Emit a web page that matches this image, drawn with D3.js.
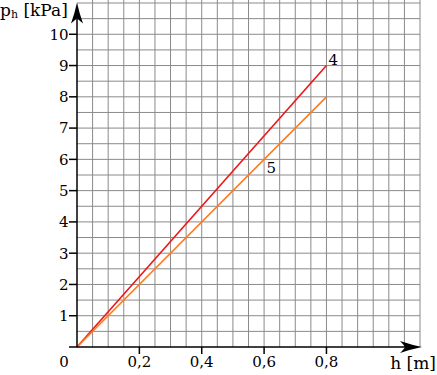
<!DOCTYPE html>
<html>
<head>
<meta charset="utf-8">
<script src="https://cdn.jsdelivr.net/npm/d3@7"></script>
<style>
  body { margin: 0; background: #fff; }
  svg { display: block; }
  text { font-family: "DejaVu Serif", serif; fill: #000; }
</style>
</head>
<body>
<div id="chart"></div>
<script>
// line data: h [m] -> p_h [kPa]
const hValues = [0, 0.8];
const line4 = [0, 9];
const line5 = [0, 8];
const lineNames = ["4", "5"];
const lineColors = ["#f01515", "#ff7a1e"];

const xTicks = [0.2, 0.4, 0.6, 0.8];
const yTicks = [1, 2, 3, 4, 5, 6, 7, 8, 9, 10];

const width = 437, height = 375;

const svg = d3.select("#chart").append("svg")
    .attr("width", width)
    .attr("height", height);

const x = d3.scaleLinear().domain([0, 1.1]).range([77, 420]);
const y = d3.scaleLinear().domain([0, 11]).range([347, 3]);

// grid every 0.05 m and 0.5 kPa
const gridX = d3.range(1, 23).map(i => i * 0.05);
const gridY = d3.range(1, 23).map(i => i * 0.5);

const grid = svg.append("g").attr("stroke", "#8a8a8a").attr("stroke-width", 1);
grid.selectAll(".gx")
    .data(gridX)
    .join("line")
    .attr("x1", d => x(d)).attr("x2", d => x(d))
    .attr("y1", y(0)).attr("y2", y(11) - 3);
grid.selectAll(".gy")
    .data(gridY)
    .join("line")
    .attr("x1", x(0)).attr("x2", x(1.1))
    .attr("y1", d => y(d)).attr("y2", d => y(d));

// data lines
const series = [line4, line5];
const line = d3.line()
    .x((d, i) => x(hValues[i]))
    .y(d => y(d));

svg.selectAll(".series")
    .data(series)
    .join("path")
    .attr("fill", "none")
    .attr("stroke", (d, i) => lineColors[i])
    .attr("stroke-width", 1.6)
    .attr("d", d => line(d));

// line labels
const labelOffsets = [{ dx: 2, dy: -1, at: 1 }, { dx: -60, dy: 76, at: 1 }];
svg.selectAll(".lbl")
    .data(series)
    .join("text")
    .attr("x", (d, i) => x(hValues[labelOffsets[i].at]) + labelOffsets[i].dx)
    .attr("y", (d, i) => y(d[labelOffsets[i].at]) + labelOffsets[i].dy)
    .style("font-size", "15px")
    .text((d, i) => lineNames[i]);

// axes
const axisG = svg.append("g").attr("stroke", "#000").attr("stroke-width", 1.5);
axisG.append("line")
    .attr("x1", x(0)).attr("x2", x(0))
    .attr("y1", y(0)).attr("y2", 16);
axisG.append("line")
    .attr("x1", x(0) - 8).attr("x2", 408)
    .attr("y1", y(0)).attr("y2", y(0));

// y ticks
axisG.selectAll(".yt")
    .data(yTicks)
    .join("line")
    .attr("x1", x(0) - 8).attr("x2", x(0))
    .attr("y1", d => y(d)).attr("y2", d => y(d));

svg.selectAll(".ytl")
    .data(yTicks)
    .join("text")
    .attr("x", x(0) - 8.5)
    .attr("y", d => y(d))
    .attr("dy", "0.36em")
    .attr("text-anchor", "end")
    .style("font-size", "15px")
    .text(d => d);

// x ticks
axisG.selectAll(".xt")
    .data(xTicks)
    .join("line")
    .attr("x1", d => x(d)).attr("x2", d => x(d))
    .attr("y1", y(0)).attr("y2", y(0) + 7);

const fmt = d => d3.format(".1f")(d).replace(".", ",");
svg.selectAll(".xtl")
    .data(xTicks)
    .join("text")
    .attr("x", d => x(d))
    .attr("y", 367)
    .attr("text-anchor", "middle")
    .style("font-size", "15px")
    .text(d => fmt(d));

svg.append("text")
    .attr("x", 64)
    .attr("y", 367)
    .attr("text-anchor", "middle")
    .style("font-size", "15px")
    .text("0");

// arrowheads
const ax = x(0), ay = y(0);
svg.append("path")
    .attr("fill", "#000")
    .attr("d", `M${ax},2.5 Q${ax + 2},12 ${ax + 6},23.5 Q${ax + 2},20 ${ax},18.5 Q${ax - 2},20 ${ax - 6},23.5 Q${ax - 2},12 ${ax},2.5 Z`);
svg.append("path")
    .attr("fill", "#000")
    .attr("d", `M422,${ay} Q412,${ay - 2} 400,${ay - 6} Q404,${ay - 2} 405,${ay} Q404,${ay + 2} 400,${ay + 6} Q412,${ay + 2} 422,${ay} Z`);

// axis titles
const yTitle = svg.append("text")
    .attr("x", 0)
    .attr("y", 16)
    .style("font-size", "17px");
yTitle.append("tspan").text("p");
yTitle.append("tspan").attr("dy", 2).style("font-size", "11px").text("h");
yTitle.append("tspan").attr("dy", -2).text(" [kPa]");

svg.append("text")
    .attr("x", 436)
    .attr("y", 369)
    .attr("text-anchor", "end")
    .style("font-size", "17px")
    .text("h [m]");
</script>
</body>
</html>
